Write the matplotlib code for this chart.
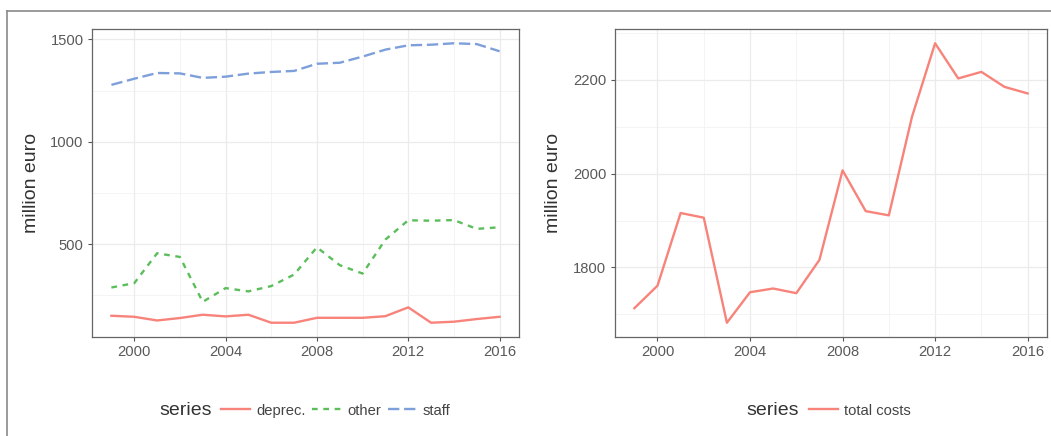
import matplotlib
matplotlib.use("Agg")
import matplotlib.pyplot as plt
from matplotlib.lines import Line2D
from matplotlib.ticker import FixedLocator

plt.rcParams['font.family'] = ['Liberation Sans', 'DejaVu Sans']

years = [1999, 2000, 2001, 2002, 2003, 2004, 2005, 2006, 2007, 2008,
         2009, 2010, 2011, 2012, 2013, 2014, 2015, 2016]
deprec = [151, 146, 128, 140, 156, 148, 156, 117, 117, 141,
          141, 141, 149, 192, 117, 122, 135, 146]
other = [289, 310, 456, 438, 219, 286, 270, 296, 352, 485,
         398, 357, 523, 617, 615, 618, 575, 583]
staff = [1278, 1308, 1336, 1334, 1312, 1318, 1333, 1341, 1346, 1381,
         1386, 1416, 1450, 1471, 1474, 1481, 1477, 1442]
total_costs = [1713, 1761, 1916, 1906, 1682, 1747, 1755, 1745, 1816, 2007,
               1920, 1911, 2121, 2278, 2203, 2217, 2185, 2171]

left_series = [("deprec.", deprec), ("other", other), ("staff", staff)]
right_series = [("total costs", total_costs)]

x_ticks = [2000, 2004, 2008, 2012, 2016]
x_minor = [2002, 2006, 2010, 2014]
left_yticks = [500, 1000, 1500]
left_yminor = [250, 750, 1250]
right_yticks = [1800, 2000, 2200]
right_yminor = [1700, 1900, 2100, 2300]

RED = '#F8837A'
GREEN = '#5BBE5B'
BLUE = '#7DA0DA'
styles = {
    "deprec.": dict(color=RED, linestyle='-'),
    "other": dict(color=GREEN, linestyle=(0, (2.4, 2.4))),
    "staff": dict(color=BLUE, linestyle=(0, (4.8, 2.0))),
    "total costs": dict(color=RED, linestyle='-'),
}

W, H = 1051, 436
fig = plt.figure(figsize=(W / 100, H / 100), dpi=100)

# outer page border (partially visible)
fig.add_artist(Line2D([7 / W, 7 / W], [1 - 11 / H, 0], transform=fig.transFigure,
                      color='#8a8a8a', lw=1.2))
fig.add_artist(Line2D([7 / W, 1], [1 - 11 / H, 1 - 11 / H], transform=fig.transFigure,
                      color='#8a8a8a', lw=1.2))

bottom = 1 - 336.7 / H
height = (336.7 - 29.3) / H
ax1 = fig.add_axes([92 / W, bottom, (519 - 92) / W, height])
ax2 = fig.add_axes([614.7 / W, bottom, (1047.3 - 614.7) / W, height])


def style_axes(ax, yt, ym):
    ax.set_facecolor('white')
    ax.xaxis.set_major_locator(FixedLocator(x_ticks))
    ax.xaxis.set_minor_locator(FixedLocator(x_minor))
    ax.yaxis.set_major_locator(FixedLocator(yt))
    ax.yaxis.set_minor_locator(FixedLocator(ym))
    ax.grid(which='major', color='#EBEBEB', lw=0.9)
    ax.grid(which='minor', color='#F2F2F2', lw=0.6)
    ax.set_axisbelow(True)
    for s in ax.spines.values():
        s.set_color('#666666')
        s.set_linewidth(0.9)
    ax.tick_params(which='major', length=3, width=0.8, color='#555555',
                   labelsize=10.6, labelcolor='#595959', pad=3)
    ax.tick_params(which='minor', length=0)
    ax.margins(x=0.05, y=0.05)
    ax.set_ylabel('million euro', fontsize=14, color='#333333')
    ax.yaxis.set_label_coords(-0.122, 0.5)


def draw(ax, series):
    handles = []
    for name, vals in series:
        st = styles[name]
        ln, = ax.plot(years, vals, color=st['color'], linestyle=st['linestyle'],
                      lw=1.7, solid_joinstyle='round', dash_capstyle='butt',
                      label=name)
        handles.append(ln)
    return handles


h1 = draw(ax1, left_series)
h2 = draw(ax2, right_series)
style_axes(ax1, left_yticks, left_yminor)
style_axes(ax2, right_yticks, right_yminor)

ly = 1 - 410.5 / H
fig.text(159 / W, ly, 'series', fontsize=14, color='#333333', ha='left', va='center')
fig.legend(handles=h1, labels=[n for n, _ in left_series], loc='center left',
           bbox_to_anchor=(221 / W, ly), ncol=3, frameon=False, fontsize=10.6,
           handlelength=2.0, handletextpad=0.38, columnspacing=0.45,
           borderpad=0, borderaxespad=0, labelcolor='#444444')
fig.text(746.7 / W, ly, 'series', fontsize=14, color='#333333', ha='left', va='center')
fig.legend(handles=h2, labels=[n for n, _ in right_series], loc='center left',
           bbox_to_anchor=(809 / W, ly), ncol=1, frameon=False, fontsize=10.6,
           handlelength=2.0, handletextpad=0.38, columnspacing=0.45,
           borderpad=0, borderaxespad=0, labelcolor='#444444')

fig.savefig('out.png', dpi=100, facecolor='white')
